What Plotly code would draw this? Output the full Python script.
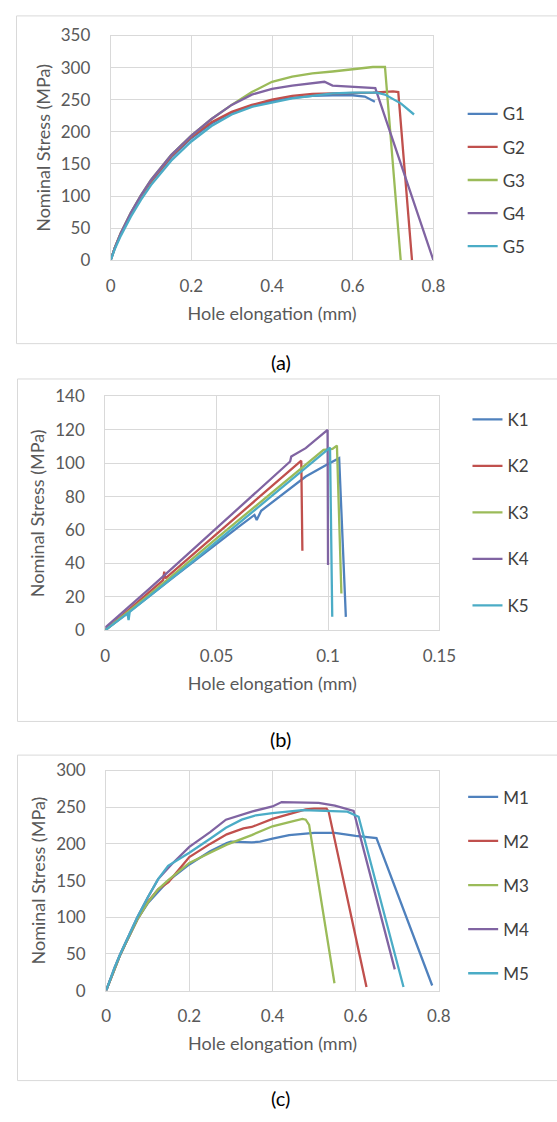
import plotly.graph_objects as go

W, H = 557, 1122
FONT = "Lato"

# ---------------- data: panel (a) ----------------
g_names = ["G1", "G2", "G3", "G4", "G5"]
g1_x = [0, 0.01, 0.025, 0.05, 0.075, 0.1, 0.15, 0.2, 0.25, 0.3, 0.35, 0.4, 0.45, 0.5, 0.55, 0.6, 0.63, 0.655]
g1_y = [0, 19, 41, 72, 99, 122, 160, 190, 213, 230, 241, 248, 253, 256, 257, 257, 255, 247]
g2_x = [0, 0.01, 0.025, 0.05, 0.075, 0.1, 0.15, 0.2, 0.25, 0.3, 0.35, 0.4, 0.45, 0.5, 0.55, 0.6, 0.65, 0.7, 0.713, 0.747]
g2_y = [0, 19, 42, 73, 100, 123, 162, 192, 215, 231, 242, 250, 256, 259, 260, 260, 261, 263, 262, 0]
g3_x = [0, 0.01, 0.025, 0.05, 0.075, 0.1, 0.15, 0.2, 0.25, 0.3, 0.35, 0.4, 0.45, 0.5, 0.55, 0.6, 0.65, 0.68, 0.719]
g3_y = [0, 19, 42, 74, 101, 125, 164, 194, 220, 242, 262, 278, 286, 291, 294, 298, 301, 301, 0]
g4_x = [0, 0.01, 0.025, 0.05, 0.075, 0.1, 0.15, 0.2, 0.25, 0.3, 0.35, 0.4, 0.45, 0.5, 0.53, 0.55, 0.6, 0.656, 0.8]
g4_y = [0, 19, 42, 74, 101, 125, 164, 194, 220, 242, 258, 267, 272, 276, 278, 272, 270, 268, 0]
g5_x = [0, 0.01, 0.025, 0.05, 0.075, 0.1, 0.15, 0.2, 0.25, 0.3, 0.35, 0.4, 0.45, 0.5, 0.55, 0.6, 0.66, 0.68, 0.72, 0.752]
g5_y = [0, 17, 38, 68, 94, 117, 155, 185, 209, 227, 239, 246, 252, 256, 260, 261, 261, 258, 244, 227]

# ---------------- data: panel (b) ----------------
k_names = ["K1", "K2", "K3", "K4", "K5"]
k1_x = [0, 0.01, 0.02, 0.03, 0.04, 0.05, 0.06, 0.067, 0.068, 0.07, 0.08, 0.09, 0.1, 0.105, 0.108]
k1_y = [0, 10, 20.5, 31, 41.5, 52, 62, 69, 66, 71.5, 82, 92, 99.5, 103, 8]
k2_x = [0, 0.01, 0.02, 0.026, 0.0265, 0.027, 0.03, 0.04, 0.05, 0.06, 0.07, 0.08, 0.088, 0.0885]
k2_y = [0, 11.5, 23, 30, 35, 31, 34.5, 46, 57.5, 69, 80.5, 92, 101.5, 47.5]
k3_x = [0, 0.01, 0.02, 0.03, 0.04, 0.05, 0.06, 0.07, 0.08, 0.09, 0.095, 0.098, 0.102, 0.104, 0.106]
k3_y = [0, 10.5, 21.5, 32.5, 44, 55, 66, 77, 88, 99, 105, 108, 108.5, 110.5, 22]
k4_x = [0, 0.01, 0.02, 0.03, 0.04, 0.05, 0.06, 0.07, 0.08, 0.083, 0.0835, 0.09, 0.0998, 0.1]
k4_y = [1.5, 13, 25, 37, 49, 61, 73, 85, 97, 101, 104, 109, 120, 39]
k5_x = [0, 0.01, 0.0105, 0.011, 0.02, 0.03, 0.04, 0.05, 0.06, 0.07, 0.08, 0.09, 0.1, 0.1009, 0.1019]
k5_y = [0, 10, 6, 11, 20.5, 31, 42, 53, 64, 75, 86.5, 97.5, 108, 109.3, 8]

# ---------------- data: panel (c) ----------------
m_names = ["M1", "M2", "M3", "M4", "M5"]
m1_x = [0, 0.01, 0.02, 0.034, 0.05, 0.075, 0.1, 0.118, 0.15, 0.2, 0.25, 0.29, 0.3, 0.35, 0.37, 0.4, 0.44, 0.5, 0.55, 0.6, 0.65, 0.784]
m1_y = [0, 15, 30, 49, 68, 97, 119, 130, 150, 172, 190, 201, 203, 202, 203, 207, 212, 215, 215, 211, 208, 7]
m2_x = [0, 0.01, 0.02, 0.034, 0.05, 0.075, 0.1, 0.125, 0.15, 0.2, 0.25, 0.29, 0.33, 0.35, 0.4, 0.45, 0.48, 0.5, 0.53, 0.535, 0.626]
m2_y = [0, 15, 30, 49, 68, 97, 121, 138, 148, 182, 200, 213, 221, 223, 234, 242, 247, 248, 248, 244, 5]
m3_x = [0, 0.01, 0.02, 0.034, 0.05, 0.075, 0.1, 0.125, 0.15, 0.2, 0.25, 0.29, 0.35, 0.4, 0.45, 0.472, 0.48, 0.488, 0.549]
m3_y = [0, 15, 30, 49, 68, 97, 120, 138, 151, 174, 188, 199, 212, 224, 231, 234, 233, 226, 10]
m4_x = [0, 0.01, 0.02, 0.034, 0.05, 0.075, 0.1, 0.125, 0.157, 0.2, 0.25, 0.288, 0.35, 0.4, 0.422, 0.45, 0.511, 0.55, 0.595, 0.694]
m4_y = [0, 16, 31, 50, 70, 100, 127, 152, 172, 196, 216, 233, 244, 251, 257, 257, 256, 252, 245, 29]
m5_x = [0, 0.01, 0.02, 0.034, 0.05, 0.075, 0.1, 0.125, 0.149, 0.2, 0.25, 0.288, 0.326, 0.36, 0.4, 0.472, 0.58, 0.607, 0.715]
m5_y = [0, 16, 31, 50, 70, 100, 127, 152, 170, 188, 207, 222, 233, 239, 242, 246, 244, 237, 5]

x_title = "Hole elongation (mm)"
y_title = "Nominal Stress (MPa)"
captions = ["(a)", "(b)", "(c)"]

colors = ["#4F81BD", "#C0504D", "#9BBB59", "#8064A2", "#4BACC6"]


def px_x(p):
    return p / W


def px_y(p):
    return 1 - p / H


panels = [
    dict(names=g_names, xs=[g1_x, g2_x, g3_x, g4_x, g5_x], ys=[g1_y, g2_y, g3_y, g4_y, g5_y],
         ax="", xr=[0, 0.8], dx=0.2, yr=[0, 350], dy=50,
         plot=(110, 446, 25, 254), legend_mid=172.5, legend_gap=8, legend_x=476.5,
         box=(12, 5, 339), cap_y=358),
    dict(names=k_names, xs=[k1_x, k2_x, k3_x, k4_x, k5_x], ys=[k1_y, k2_y, k3_y, k4_y, k5_y],
         ax="2", xr=[0, 0.15], dx=0.05, yr=[0, 140], dy=20,
         plot=(104.3, 452.3, 392.7, 631), legend_mid=511.3, legend_gap=21.4, legend_x=481.5,
         box=(13, 375, 724), cap_y=742),
    dict(names=m_names, xs=[m1_x, m2_x, m3_x, m4_x, m5_x], ys=[m1_y, m2_y, m3_y, m4_y, m5_y],
         ax="3", xr=[0, 0.8], dx=0.2, yr=[0, 300], dy=50,
         plot=(105.3, 451.7, 774, 998.3), legend_mid=891, legend_gap=19, legend_x=477,
         box=(13, 758.3, 1090), cap_y=1108),
]

fig = go.Figure()
tick_font = dict(family=FONT, size=17, color="#595959")
title_font = dict(family=FONT, size=18, color="#595959")
shapes = []
annotations = []
layout = {}

for p in panels:
    leg = "legend" + p["ax"]
    for i, (n, xv, yv) in enumerate(zip(p["names"], p["xs"], p["ys"])):
        fig.add_trace(go.Scatter(
            x=xv, y=yv, mode="lines", name=n,
            line=dict(color=colors[i], width=2.3),
            xaxis="x" + p["ax"], yaxis="y" + p["ax"],
            legend=leg, legendgroup=n,
        ))
    x0, x1, ytop, ybot = p["plot"]
    common = dict(showgrid=True, gridcolor="#D9D9D9", gridwidth=1, zeroline=False,
                  showline=True, mirror=True, linecolor="#D9D9D9", linewidth=1,
                  ticks="outside", tickcolor="rgba(0,0,0,0)", tickfont=tick_font)
    layout["xaxis" + p["ax"]] = dict(
        common, domain=[px_x(x0), px_x(x1)], range=p["xr"], tick0=0, dtick=p["dx"],
        ticklen=10, anchor="y" + p["ax"],
        title=dict(text=x_title, font=title_font, standoff=12))
    layout["yaxis" + p["ax"]] = dict(
        common, domain=[px_y(ybot), px_y(ytop)], range=p["yr"], tick0=0, dtick=p["dy"],
        ticklen=16, anchor="x" + p["ax"],
        title=dict(text=y_title, font=title_font, standoff=5))
    layout[leg] = dict(
        x=px_x(p["legend_x"]), y=px_y(p["legend_mid"]), xanchor="left", yanchor="middle",
        font=dict(family=FONT, size=17, color="#404040"), bgcolor="rgba(0,0,0,0)",
        tracegroupgap=p["legend_gap"], borderwidth=0)
    bx, bt, bb = p["box"]
    shapes.append(dict(type="rect", xref="paper", yref="paper",
                       x0=px_x(bx), x1=2.0, y0=px_y(bb), y1=px_y(bt),
                       line=dict(color="#D9D9D9", width=1), fillcolor="rgba(0,0,0,0)"))

for cap, p in zip(captions, panels):
    annotations.append(dict(text=cap, x=px_x(287), y=px_y(p["cap_y"]), xref="paper", yref="paper",
                            xanchor="center", yanchor="middle", showarrow=False,
                            font=dict(family=FONT, size=20, color="#000000")))

fig.update_layout(
    width=W, height=H, margin=dict(l=0, r=0, t=0, b=0),
    paper_bgcolor="white", plot_bgcolor="white",
    font=dict(family=FONT),
    shapes=shapes, annotations=annotations, showlegend=True,
    **layout,
)

fig.write_html(
    "out.html",
    config={"displayModeBar": False},
    post_script="document.body.style.margin='0px';document.body.style.padding='0px';"
                "document.documentElement.style.overflow='hidden';",
)
